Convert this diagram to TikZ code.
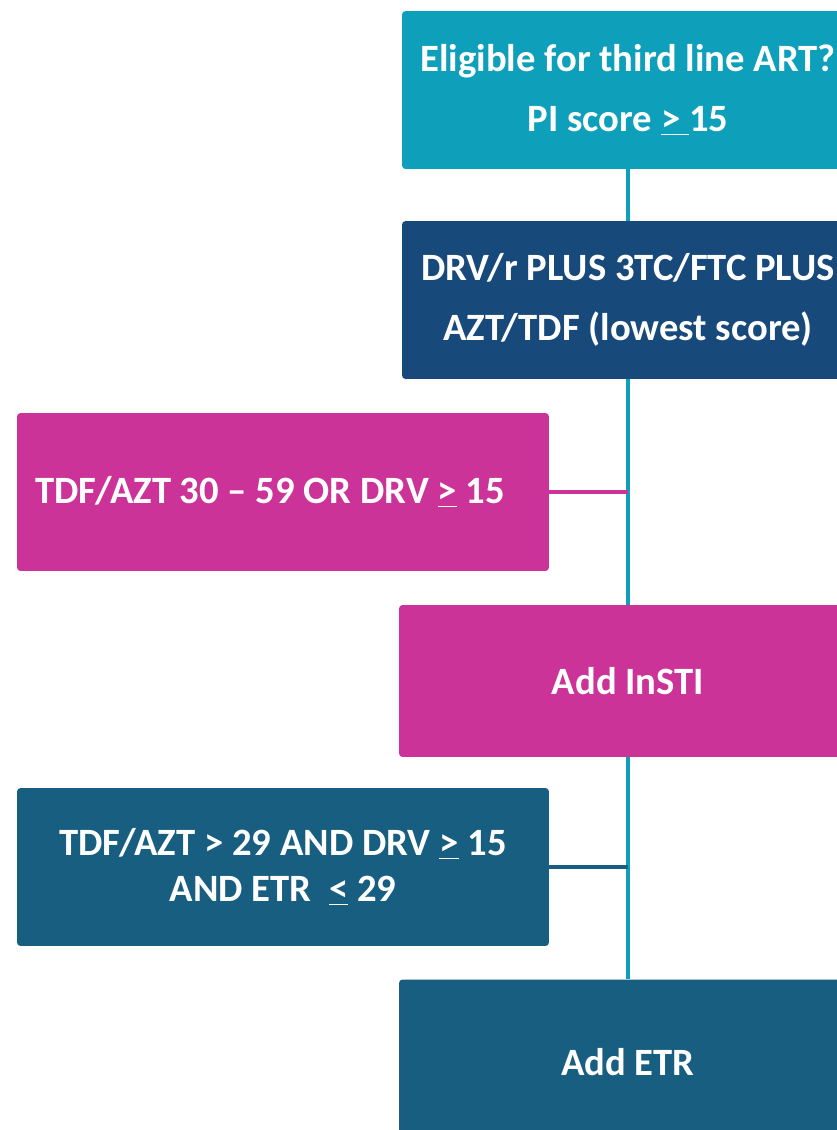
\documentclass[tikz,border=0pt]{standalone}
\usepackage{fontspec}
\setmainfont{Carlito}
\usetikzlibrary{positioning}
\definecolor{artteal}{HTML}{0EA0BA}
\definecolor{artnavy}{HTML}{17497A}
\definecolor{artpink}{HTML}{CC3399}
\definecolor{artsteel}{HTML}{175E80}
\begin{document}
\begin{tikzpicture}[
  x=0.02cm, y=-0.02cm,
  box/.style={rounded corners=2pt, align=center, text=white, inner sep=0pt,
              font=\fontsize{22}{34}\selectfont\bfseries},
  mainbox/.style={box, minimum width=9.04cm, minimum height=3.16cm},
  sidebox/.style={box, minimum width=10.64cm, minimum height=3.16cm,
                  font=\fontsize{22}{26}\selectfont\bfseries},
  link/.style={line width=0.08cm}
]
  \useasboundingbox (0,0) rectangle (837,1130);
  \clip (0,0) rectangle (837,1130);

  % Main column
  \node[mainbox, fill=artteal] (elig) at (628,90)
    {Eligible for third line ART?\\PI score \underline{>\ }15};
  \node[mainbox, fill=artnavy] (regimen) at (628,300)
    {DRV/r PLUS 3TC/FTC PLUS\\AZT/TDF (lowest score)};
  \node[mainbox, fill=artpink, minimum width=9.16cm, minimum height=3.04cm] (insti) at (628,681)
    {Add InSTI};
  \node[mainbox, fill=artsteel, minimum width=9.16cm, minimum height=3.3cm] (etr) at (628,1062)
    {Add ETR};

  % Conditions
  \node[sidebox, fill=artpink, text width=9.92cm, align=flush left, inner xsep=0.36cm] (insticond) at (283,492)
    {TDF/AZT 30 -- 59 OR DRV \underline{>} 15};
  \node[sidebox, fill=artsteel] (etrcond) at (283,867)
    {TDF/AZT > 29 AND DRV \underline{>} 15\\AND ETR\ \ \underline{<} 29};

  % Connectors
  \draw[link, artteal] (elig) -- (regimen);
  \draw[link, artteal] (regimen) -- (insti);
  \draw[link, artteal] (insti) -- (etr);
  \draw[link, artpink] (insticond.east) -- (insticond.east -| regimen.south);
  \draw[link, artsteel] (etrcond.east) -- (etrcond.east -| insti.south);
\end{tikzpicture}
\end{document}
